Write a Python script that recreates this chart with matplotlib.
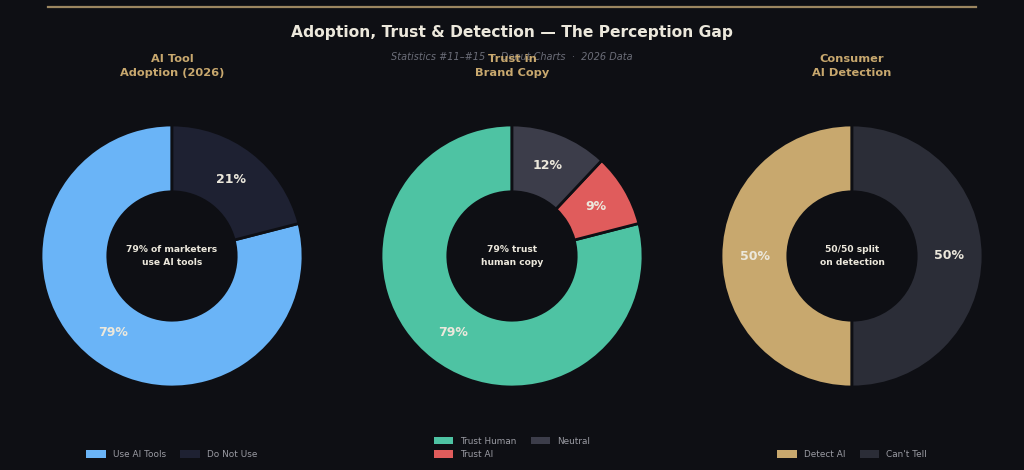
import matplotlib
matplotlib.use("Agg")
import matplotlib.pyplot as plt
from matplotlib.lines import Line2D
from matplotlib.patches import Patch

# data
titles = ["AI Tool\nAdoption (2026)", "Trust in\nBrand Copy", "Consumer\nAI Detection"]
centre_texts = ["79% of marketers\nuse AI tools", "79% trust\nhuman copy", "50/50 split\non detection"]

adoption_labels = ["Use AI Tools", "Do Not Use"]
adoption_values = [79, 21]
trust_labels = ["Trust Human", "Trust AI", "Neutral"]
trust_values = [79, 9, 12]
detect_labels = ["Detect AI", "Can't Tell"]
detect_values = [50, 50]

adoption_colors = ["#6ab4f7", "#1e2132"]
trust_colors = ["#4ec3a3", "#e05c5c", "#3c3d4a"]
detect_colors = ["#c8a86e", "#2b2d37"]

BG = "#0e0f14"
GOLD = "#c8a86e"
TEXT = "#ece8dc"

fig = plt.figure(figsize=(10.24, 4.7), dpi=100, facecolor=BG)

# thin gold rule across the top
fig.add_artist(Line2D([48 / 1024, 976 / 1024], [1 - 7 / 470, 1 - 7 / 470],
                      color="#9c8660", lw=1.6, transform=fig.transFigure))

fig.text(0.5, 1 - 33 / 470, "Adoption, Trust & Detection \u2014 The Perception Gap",
         ha="center", va="center", color=TEXT, fontsize=11.2, fontweight="bold")
fig.text(0.5, 1 - 57 / 470, "Statistics #11\u2013#15  \u00b7  Donut Charts  \u00b7  2026 Data",
         ha="center", va="center", color="#6b6d78", fontsize=7, style="italic")

datasets = [
    (adoption_labels, adoption_values, adoption_colors),
    (trust_labels, trust_values, trust_colors),
    (detect_labels, detect_values, detect_colors),
]
centres_x = [172, 512, 852]
cy = 256
radius_px = 131

for i, (labels, values, colors) in enumerate(datasets):
    cx = centres_x[i]
    w = 2 * radius_px / 1024
    h = 2 * radius_px / 470
    ax = fig.add_axes([cx / 1024 - w / 2, (470 - cy) / 470 - h / 2, w, h])
    ax.set_facecolor(BG)
    wedges, texts, autotexts = ax.pie(
        values, colors=colors, startangle=90, radius=1,
        autopct=lambda p: f"{p:.0f}%", pctdistance=0.74,
        wedgeprops=dict(width=0.51, edgecolor=BG, linewidth=2),
        textprops=dict(color=TEXT, fontsize=9, fontweight="bold"))
    ax.set_xlim(-1, 1)
    ax.set_ylim(-1, 1)
    ax.set_aspect("equal")
    ax.axis("off")
    ax.text(0, 0, centre_texts[i], ha="center", va="center", color=TEXT,
            fontsize=6.6, fontweight="bold", linespacing=1.6)

    fig.text(cx / 1024, 1 - 66 / 470, titles[i], ha="center", va="center",
             color=GOLD, fontsize=8.2, fontweight="bold", linespacing=1.5)

    handles = [Patch(facecolor=c, edgecolor="none") for c in colors]
    ax.legend(handles, labels, loc="lower center", ncol=2,
              bbox_to_anchor=(cx / 1024, 0.006), bbox_transform=fig.transFigure,
              frameon=False, fontsize=6.4, labelcolor="#9a9ba3",
              handlelength=2.2, handleheight=0.9, columnspacing=1.6,
              labelspacing=0.5, handletextpad=0.8)

fig.savefig("out.png", dpi=100, facecolor=BG)
